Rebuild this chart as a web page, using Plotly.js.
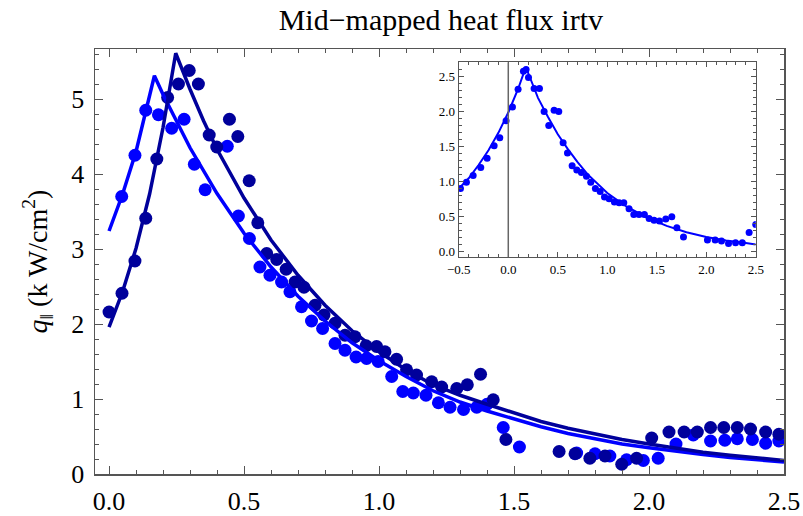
<!DOCTYPE html>
<html>
<head>
<meta charset="utf-8">
<script src="https://cdn.plot.ly/plotly-3.0.1.min.js"></script>
<style>html,body{margin:0;padding:0;background:#fff;}#chart{width:803px;height:516px;}</style>
</head>
<body>
<div id="chart"></div>
<script>
// ---- Main plot: measured points ----
const darkX = [0.00,0.048,0.096,0.136,0.177,0.217,0.257,0.297,0.331,0.371,0.399,0.446,0.477,0.519,0.551,0.584,0.621,0.656,0.689,0.722,0.763,0.796,0.837,0.874,0.911,0.952,0.991,1.022,1.065,1.102,1.139,1.195,1.232,1.288,1.327,1.376,1.423,1.47,1.667,1.726,1.781,1.837,1.899,1.954,2.010,2.074,2.130,2.179,2.228,2.277,2.327,2.376,2.432,2.481];
const darkY = [2.16,2.41,2.84,3.41,4.20,5.02,5.20,5.38,5.20,4.52,4.36,4.73,4.50,3.91,3.35,2.94,2.86,2.73,2.56,2.49,2.25,2.12,2.01,1.85,1.83,1.71,1.70,1.63,1.53,1.39,1.32,1.23,1.16,1.14,1.19,1.33,0.99,0.46,0.30,0.27,0.21,0.24,0.13,0.21,0.48,0.56,0.56,0.56,0.62,0.62,0.62,0.60,0.56,0.53];
const lightX = [0.047,0.096,0.136,0.183,0.232,0.278,0.316,0.356,0.438,0.479,0.520,0.559,0.596,0.639,0.670,0.713,0.750,0.791,0.837,0.874,0.915,0.954,0.997,1.047,1.088,1.127,1.174,1.220,1.263,1.313,1.362,1.40,1.46,1.520,1.732,1.800,1.855,1.917,1.979,2.034,2.100,2.164,2.228,2.281,2.327,2.383,2.432,2.481];
const lightY = [3.70,4.25,4.85,4.79,4.61,4.73,4.13,3.79,4.37,3.44,3.14,2.76,2.65,2.56,2.43,2.23,2.04,1.94,1.74,1.65,1.56,1.54,1.50,1.30,1.10,1.08,1.05,0.95,0.89,0.86,0.89,0.93,0.62,0.36,0.28,0.27,0.24,0.19,0.18,0.21,0.40,0.52,0.44,0.45,0.47,0.46,0.41,0.44];

// ---- Main plot: fit curves ----
const darkFitX = [0,0.05,0.1,0.15,0.2,0.247,0.3,0.35,0.4,0.5,0.6,0.7,0.8,0.9,1.0,1.1,1.2,1.3,1.4,1.5,1.6,1.7,1.8,1.9,2.0,2.1,2.2,2.3,2.4,2.5];
const darkFitY = [1.96,2.43,3.01,3.73,4.62,5.61,5.13,4.71,4.33,3.68,3.12,2.65,2.25,1.91,1.63,1.39,1.19,1.05,0.93,0.81,0.70,0.61,0.53,0.46,0.40,0.34,0.29,0.25,0.21,0.18];
const lightFitX = [0,0.05,0.1,0.168,0.2,0.25,0.3,0.4,0.5,0.6,0.7,0.8,0.9,1.0,1.1,1.2,1.3,1.4,1.5,1.6,1.7,1.8,1.9,2.0,2.1,2.2,2.3,2.4,2.5];
const lightFitY = [3.24,3.73,4.30,5.31,5.06,4.70,4.35,3.74,3.21,2.76,2.37,2.04,1.75,1.51,1.30,1.11,0.96,0.84,0.73,0.63,0.54,0.47,0.40,0.35,0.30,0.26,0.22,0.19,0.16];

// ---- Inset ----
const insetX = [-0.483,-0.423,-0.355,-0.278,-0.214,-0.143,-0.086,-0.022,0.042,0.099,0.153,0.18,0.204,0.261,0.315,0.362,0.409,0.463,0.51,0.554,0.598,0.645,0.692,0.739,0.79,0.833,0.88,0.928,0.972,1.019,1.072,1.12,1.167,1.22,1.268,1.321,1.375,1.423,1.473,1.527,1.591,1.652,1.703,1.77,2.012,2.09,2.154,2.225,2.296,2.364,2.433,2.5];
const insetY = [0.905,0.995,1.09,1.205,1.338,1.514,1.629,1.871,2.071,2.324,2.581,2.605,2.49,2.333,2.333,2.005,1.805,2.024,2.005,1.557,1.41,1.229,1.167,1.133,1.081,0.995,0.905,0.862,0.781,0.757,0.71,0.70,0.70,0.614,0.533,0.533,0.533,0.476,0.452,0.438,0.467,0.5,0.343,0.21,0.167,0.167,0.152,0.119,0.129,0.129,0.276,0.39];
const insetFitX = [-0.5,-0.4,-0.3,-0.2,-0.1,0.0,0.1,0.177,0.25,0.3,0.4,0.5,0.6,0.7,0.8,0.9,1.0,1.2,1.4,1.6,1.8,2.0,2.2,2.4,2.5];
const insetFitY = [0.90,1.05,1.24,1.45,1.70,1.99,2.33,2.64,2.38,2.20,1.93,1.68,1.47,1.28,1.11,0.97,0.84,0.64,0.49,0.37,0.28,0.21,0.16,0.125,0.105];

const LIGHT = 'rgb(0,0,255)';
const DARK = 'rgb(0,0,155)';
const FRAME = '#555555';
const FONT = 'Liberation Serif, Times New Roman, serif';

const traces = [
  {x: lightX, y: lightY, type: 'scatter', mode: 'markers', marker: {color: LIGHT, size: 13, line: {width: 0}}, xaxis: 'x', yaxis: 'y', hoverinfo: 'skip'},
  {x: darkX, y: darkY, type: 'scatter', mode: 'markers', marker: {color: DARK, size: 13, line: {width: 0}}, xaxis: 'x', yaxis: 'y', hoverinfo: 'skip'},
  {x: lightFitX, y: lightFitY, type: 'scatter', mode: 'lines', line: {color: LIGHT, width: 3.5}, xaxis: 'x', yaxis: 'y', hoverinfo: 'skip'},
  {x: darkFitX, y: darkFitY, type: 'scatter', mode: 'lines', line: {color: DARK, width: 3.5}, xaxis: 'x', yaxis: 'y', hoverinfo: 'skip'},
  {x: insetX, y: insetY, type: 'scatter', mode: 'markers', marker: {color: LIGHT, size: 7, line: {width: 0}}, xaxis: 'x2', yaxis: 'y2', hoverinfo: 'skip'},
  {x: insetFitX, y: insetFitY, type: 'scatter', mode: 'lines', line: {color: LIGHT, width: 2}, xaxis: 'x2', yaxis: 'y2', hoverinfo: 'skip'}
];

function frameAxis(extra) {
  return Object.assign({
    ticks: 'inside', tickcolor: FRAME, tickwidth: 1,
    showline: true, linecolor: FRAME, linewidth: 1.5, mirror: 'allticks',
    showgrid: false, zeroline: false, fixedrange: true
  }, extra);
}

const layout = {
  width: 803, height: 516,
  margin: {l: 95, r: 19, t: 49, b: 42},
  paper_bgcolor: '#ffffff', plot_bgcolor: '#ffffff',
  showlegend: false,
  font: {family: FONT, color: '#000000'},
  title: {text: 'Mid−mapped heat flux irtv', font: {family: FONT, size: 30, color: '#000'}, x: 0.549, xanchor: 'center', xref: 'container', y: 0.962, yanchor: 'middle', yref: 'container'},
  xaxis: frameAxis({
    domain: [0, 1], anchor: 'y', range: [-0.052, 2.5],
    tick0: 0, dtick: 0.5, tickformat: '.1f', ticklen: 8,
    minor: {tick0: 0, dtick: 0.1, ticks: 'inside', ticklen: 4, tickcolor: FRAME, showgrid: false},
    tickfont: {family: FONT, size: 26, color: '#000'}, ticklabelstandoff: 3
  }),
  yaxis: frameAxis({
    domain: [0, 1], anchor: 'x', range: [0, 5.667],
    tick0: 0, dtick: 1, ticklen: 8,
    minor: {tick0: 0, dtick: 0.2, ticks: 'inside', ticklen: 4, tickcolor: FRAME, showgrid: false},
    tickfont: {family: FONT, size: 26, color: '#000'}, ticklabelstandoff: 4,
    title: {text: '<i>q</i><sub>‖</sub> (k W/cm<sup>2</sup>)', font: {family: FONT, size: 28, color: '#000'}, standoff: 15}
  }),
  xaxis2: frameAxis({
    domain: [0.528, 0.959], anchor: 'y2', range: [-0.5, 2.5],
    tick0: 0, dtick: 0.5, tickformat: '.1f', ticklen: 5, linewidth: 1.2,
    minor: {tick0: 0, dtick: 0.1, ticks: 'inside', ticklen: 3, tickcolor: FRAME, showgrid: false},
    tickfont: {family: FONT, size: 13, color: '#000'}
  }),
  yaxis2: frameAxis({
    domain: [0.5106, 0.969], anchor: 'x2', range: [-0.075, 2.71],
    tick0: 0, dtick: 0.5, tickformat: '.1f', ticklen: 5, linewidth: 1.2,
    minor: {tick0: 0, dtick: 0.1, ticks: 'inside', ticklen: 3, tickcolor: FRAME, showgrid: false},
    tickfont: {family: FONT, size: 13, color: '#000'}
  }),
  shapes: [
    {type: 'line', xref: 'x2', yref: 'y2 domain', x0: 0, x1: 0, y0: 0, y1: 1, line: {color: '#666666', width: 1.5}, layer: 'above'}
  ]
};

Plotly.newPlot('chart', traces, layout, {displayModeBar: false, staticPlot: true});
</script>
</body>
</html>
